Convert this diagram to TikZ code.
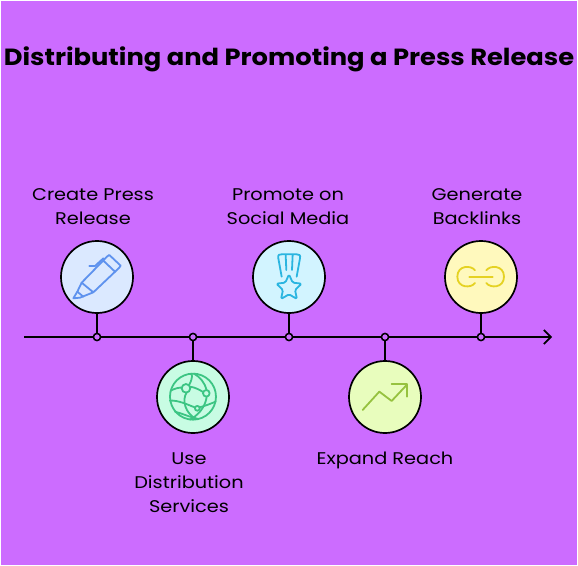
\documentclass[tikz,border=0pt]{standalone}
\usepackage{fontspec}
\setmainfont{Poppins}
\usetikzlibrary{arrows.meta}
\definecolor{bgp}{HTML}{CC6CFF}
\definecolor{fa}{HTML}{DBE9FF}\definecolor{ia}{HTML}{5E92EE}
\definecolor{fb}{HTML}{C8FCE3}\definecolor{ib}{HTML}{3CC583}
\definecolor{fc}{HTML}{D2F4FF}\definecolor{ic}{HTML}{2AB5E0}
\definecolor{fd}{HTML}{E8FDBD}\definecolor{id}{HTML}{96C23F}
\definecolor{fe}{HTML}{FFF9BD}\definecolor{ie}{HTML}{E5D222}
\newcommand{\wide}[1]{\scalebox{1.14}[1]{#1}}
\tikzset{
  stage/.style={circle,draw=black,line width=1.7bp,minimum size=72bp,inner sep=0pt},
  tick/.style={circle,draw=black,fill=bgp,line width=1.4bp,minimum size=7bp,inner sep=0pt},
  conn/.style={draw=black,line width=1.7bp},
  lab/.style={font=\fontsize{17}{24}\selectfont,align=center,text=black,inner sep=0pt},
  icon/.style={line width=1.8bp,line cap=round,line join=round},
}
\begin{document}
\begin{tikzpicture}[x=1bp,y=-1bp]
\useasboundingbox (0,0) rectangle (578,566);
\fill[white] (0,0) rectangle (578,566);
\fill[bgp] (1,1) rectangle (577,565);
\node[font=\fontsize{23.5}{24}\selectfont\bfseries,inner sep=0pt] (title) at (289,59) {\scalebox{1.10}[1]{Distributing and Promoting a Press Release}};
\coordinate (axs) at (24,337);
\coordinate (axe) at (552,337);
\node[tick] (d1) at (97,337) {};
\node[tick] (d2) at (193,337) {};
\node[tick] (d3) at (289,337) {};
\node[tick] (d4) at (385,337) {};
\node[tick] (d5) at (481,337) {};
\node[stage,fill=fa] (c1) at (97,277) {};
\node[stage,fill=fb] (c2) at (193,397) {};
\node[stage,fill=fc] (c3) at (289,277) {};
\node[stage,fill=fd] (c4) at (385,397) {};
\node[stage,fill=fe] (c5) at (481,277) {};
\draw[conn,-{Straight Barb[length=7bp,width=14bp]}] (axs) -- (axe);
\foreach \a/\b in {c1/d1,c2/d2,c3/d3,c4/d4,c5/d5}{\draw[conn] (\a) -- (\b);}
\foreach \n in {1,...,5}{\node[tick] at (d\n) {};}
% pen
\begin{scope}[shift={(50,230)},x=0.3333bp,y=-0.3333bp,icon,draw=ia]
\draw (95,158) -- (172,79) -- (178,75) -- (212,107) -- (207,114) -- (130,187) -- cycle;
\draw (160,92) -- (195,125);
\draw (118,108) -- (135,108) -- (160,85);
\draw (95,158) -- (82,185) -- (70,205) -- (90,203) -- (130,187);
\draw (82,185) -- (100,200);
\end{scope}
% globe
\begin{scope}[shift={(50,230)},x=0.3333bp,y=-0.3333bp,icon,draw=ib]
\draw (429,500) circle[radius=23bp];
\draw (408,475) circle[radius=4.3bp];
\draw (469,490) circle[radius=3.3bp];
\draw (442,535) circle[radius=2.4bp];
\draw (362,482) .. controls (375,475) and (390,472) .. (396,473);
\draw (420,470) .. controls (435,472) and (450,480) .. (459,486);
\draw (410,488) .. controls (395,510) and (405,550) .. (440,568);
\draw (418,464) .. controls (430,440) and (425,435) .. (425,431);
\draw (470,500) .. controls (468,520) and (455,550) .. (420,569);
\draw (470,480) .. controls (465,460) and (450,440) .. (432,431);
\draw (360,512) .. controls (385,510) and (415,525) .. (434,532);
\draw (449,532) .. controls (465,528) and (485,520) .. (497,515);
\draw (375,545) .. controls (395,550) and (415,560) .. (445,567);
\end{scope}
% medal
\begin{scope}[shift={(240,230)},x=0.3333bp,y=-0.3333bp,icon,draw=ic]
\draw (125,140) -- (115,85) .. controls (113,73) and (118,73) .. (125,73) -- (170,73) .. controls (178,73) and (182,75) .. (180,85) -- (170,140);
\draw (137,75) -- (139,120);
\draw (158,75) -- (156,120);
\draw[rounded corners=1.5bp] (147,133) -- (158,158) -- (185,161) -- (165,180) -- (171,207) -- (147,193) -- (123,207) -- (129,180) -- (109,161) -- (136,158) -- cycle;
\end{scope}
% chart
\begin{scope}[shift={(240,230)},x=0.3333bp,y=-0.3333bp,icon,draw=id]
\draw (368,540) -- (418,485) -- (455,513) -- (500,465);
\draw (455,463) -- (501,463) -- (501,500);
\end{scope}
% link
\begin{scope}[shift={(430,230)},x=0.3333bp,y=-0.3333bp,icon,draw=ie]
\draw (135,121) .. controls (124,105) and (82,105) .. (82,140) .. controls (82,175) and (124,175) .. (135,159);
\draw (169,121) .. controls (180,105) and (222,105) .. (222,140) .. controls (222,175) and (180,175) .. (169,159);
\draw (118,140) -- (188,140);
\end{scope}
\node[lab] (l1) at (93,207) {\wide{Create Press}\\\wide{Release}};
\node[lab] (l2) at (189,483) {\wide{Use}\\\wide{Distribution}\\\wide{Services}};
\node[lab] (l3) at (288,207) {\wide{Promote on}\\\wide{Social Media}};
\node[lab] (l4) at (385,460) {\wide{Expand Reach}};
\node[lab] (l5) at (477,207) {\wide{Generate}\\\wide{Backlinks}};
\end{tikzpicture}
\end{document}
